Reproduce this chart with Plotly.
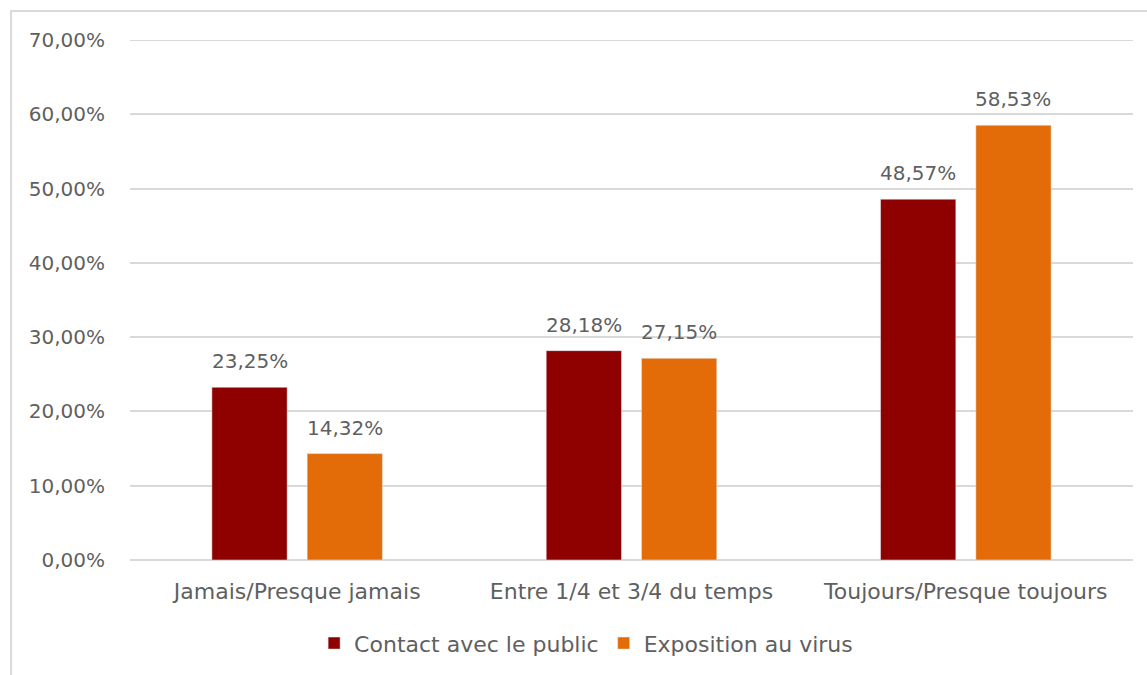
import plotly.graph_objects as go

categories = ["Jamais/Presque jamais", "Entre 1/4 et 3/4 du temps", "Toujours/Presque toujours"]
contact_public = [23.25, 28.18, 48.57]
exposition_virus = [14.32, 27.15, 58.53]
y_ticks = [0, 10, 20, 30, 40, 50, 60, 70]

def fr_pct(v):
    return f"{v:.2f}".replace(".", ",") + "%"

FONT = "'DejaVu Sans', sans-serif"
GREY = "#5F5F5F"
GRID = "#D9D9D9"

BARGAP = 0.43
GROUPGAP = 0.21
half_slot = (1 - BARGAP) / 4  # centre offset of each bar within its category

fig = go.Figure()
fig.add_trace(go.Bar(name="Contact avec le public", x=categories, y=contact_public,
                     marker_color="#8F0000"))
fig.add_trace(go.Bar(name="Exposition au virus", x=categories, y=exposition_virus,
                     marker_color="#E36C09"))

# value labels above each bar
annotations = []
for series, offset in ((contact_public, -half_slot), (exposition_virus, half_slot)):
    for i, v in enumerate(series):
        annotations.append(dict(x=i + offset, y=v, xref="x", yref="y", text=fr_pct(v),
                                showarrow=False, yanchor="bottom", yshift=12,
                                font=dict(size=20, color=GREY, family=FONT)))

fig.update_layout(
    width=1147, height=675,
    margin=dict(l=130, r=14, t=40, b=115, autoexpand=False),
    paper_bgcolor="white", plot_bgcolor="white",
    font=dict(family=FONT, size=20, color=GREY),
    barmode="group", bargap=BARGAP, bargroupgap=GROUPGAP,
    showlegend=True,
    legend=dict(orientation="h", x=0.511, y=0.047, xref="container", yref="container",
                xanchor="center", yanchor="middle",
                font=dict(size=22, color=GREY), itemwidth=30, traceorder="normal"),
    xaxis=dict(showgrid=False, showline=False, ticks="", automargin=False,
               ticklabelstandoff=16, tickfont=dict(size=22, color=GREY)),
    yaxis=dict(range=[0, 70], tickvals=y_ticks, ticktext=[fr_pct(v) for v in y_ticks],
               showgrid=True, gridcolor=GRID, gridwidth=1.5, zeroline=True,
               zerolinecolor=GRID, zerolinewidth=1.5, ticks="", ticklen=0,
               ticklabelstandoff=24, automargin=False,
               tickfont=dict(size=20, color=GREY)),
    annotations=annotations,
    shapes=[
        # top gridline at the end of the axis range
        dict(type="line", xref="paper", yref="y", x0=0, x1=1, y0=70, y1=70,
             line=dict(color=GRID, width=2)),
        # chart border
        dict(type="rect", xref="paper", yref="paper",
             x0=-0.1186, x1=1.02, y0=-0.3, y1=1.0558,
             line=dict(color=GRID, width=2), fillcolor="rgba(0,0,0,0)"),
    ],
)

fig.write_html("out.html")
